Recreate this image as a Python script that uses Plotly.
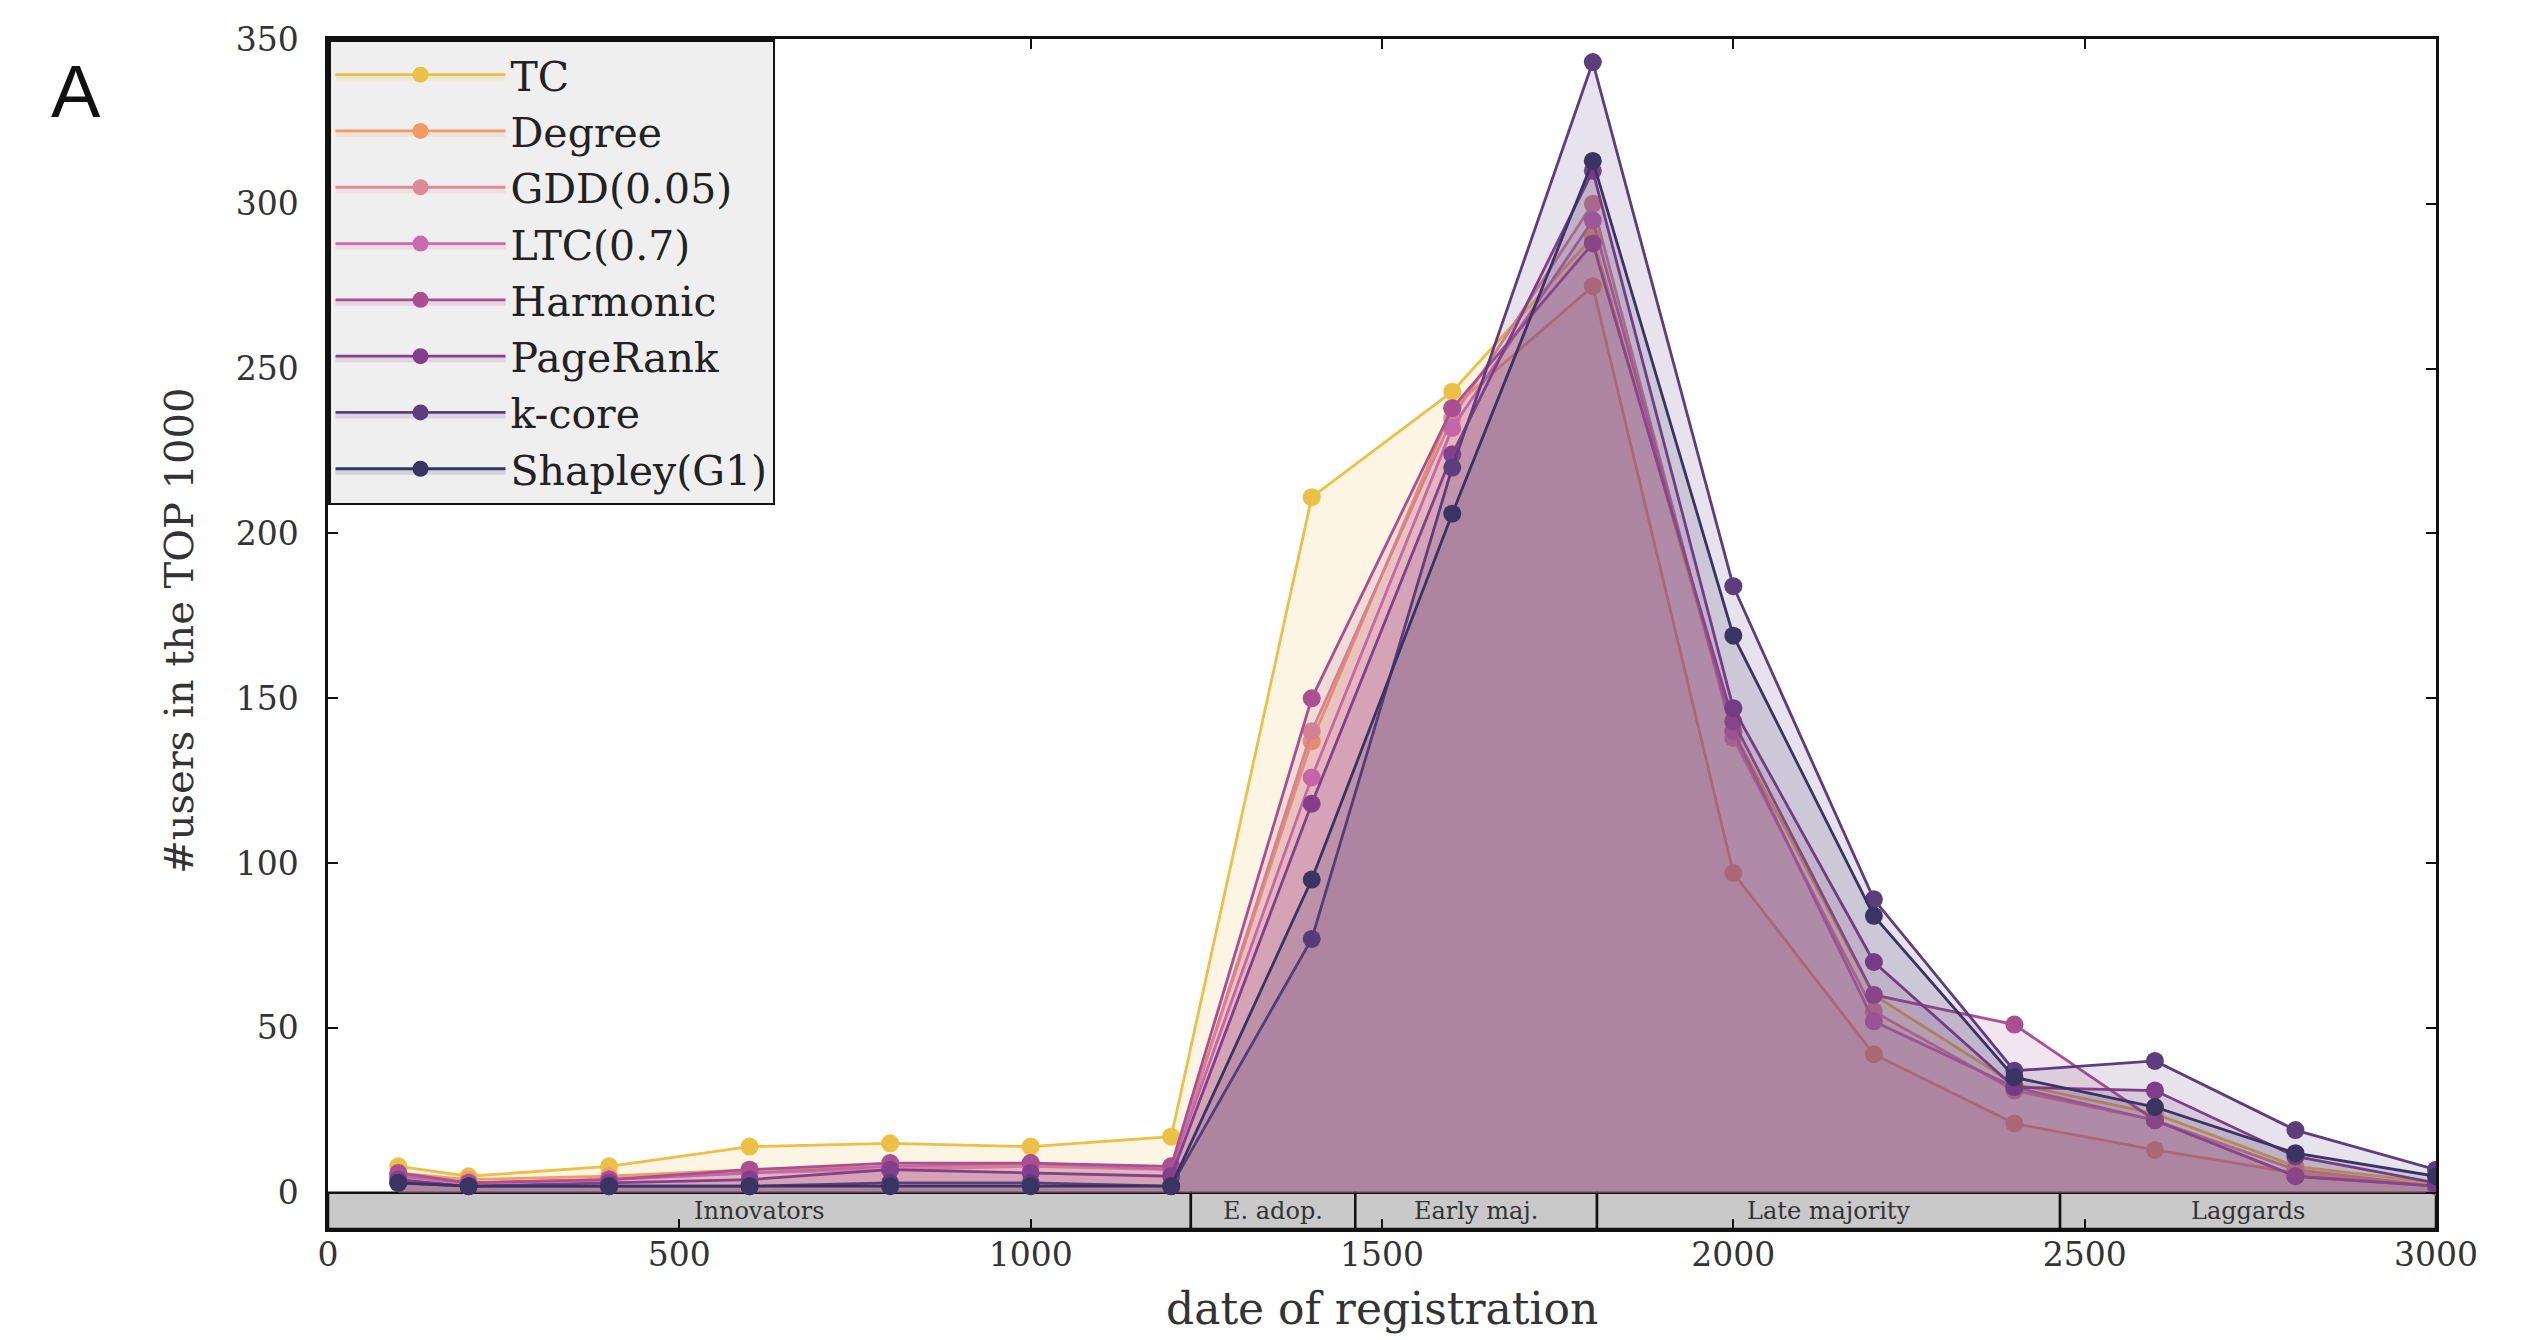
import plotly.graph_objects as go

# ---------------- data ----------------
dates = [100, 200, 400, 600, 800, 1000, 1200, 1400, 1600, 1800, 2000, 2200, 2400, 2600, 2800, 3000]

series_names = ["TC", "Degree", "GDD(0.05)", "LTC(0.7)", "Harmonic", "PageRank", "k-core", "Shapley(G1)"]

tc       = [8, 5, 8, 14, 15, 14, 17, 211, 243, 290, 140, 60, 33, 24, 8, 3]
degree   = [6, 4, 5, 7, 8, 8, 8, 137, 238, 275, 97, 42, 21, 13, 6, 2]
gdd      = [5, 3, 4, 6, 7, 8, 7, 140, 235, 300, 138, 55, 31, 22, 7, 2]
ltc      = [5, 3, 4, 6, 8, 9, 7, 126, 232, 295, 140, 52, 32, 22, 5, 2]
harmonic = [6, 3, 4, 7, 9, 9, 8, 150, 238, 288, 143, 60, 51, 22, 5, 2]
pagerank = [4, 2, 3, 4, 7, 6, 5, 118, 224, 310, 147, 70, 32, 31, 11, 3]
kcore    = [3, 2, 2, 2, 3, 3, 2, 77, 220, 343, 184, 89, 37, 40, 19, 7]
shapley  = [3, 2, 2, 2, 2, 2, 2, 95, 206, 313, 169, 84, 35, 26, 12, 5]

series_values = [tc, degree, gdd, ltc, harmonic, pagerank, kcore, shapley]

colors = ["#ecbf45", "#f29a62", "#dc8a96", "#c86aae", "#a94f92", "#843f8c", "#5c3e7c", "#393462"]

phase_labels = ["Innovators", "E. adop.", "Early maj.", "Late majority", "Laggards"]
phase_bounds = [0, 1228, 1462, 1806, 2465, 3000]

x_ticks = [0, 500, 1000, 1500, 2000, 2500, 3000]
y_ticks = [0, 50, 100, 150, 200, 250, 300, 350]

band_bottom = -11
serif = "DejaVu Serif"


def rgba(hex_color, a):
    h = hex_color.lstrip("#")
    r, g, b = int(h[0:2], 16), int(h[2:4], 16), int(h[4:6], 16)
    return f"rgba({r},{g},{b},{a})"


fig = go.Figure()
for name, ys, col in zip(series_names, series_values, colors):
    fig.add_trace(go.Scatter(
        x=dates, y=ys, name=name, mode="lines+markers",
        line=dict(color=col, width=2.8),
        marker=dict(color=col, size=18),
        fill="tozeroy", fillcolor=rgba(col, 0.15),
    ))

# adoption phase band below zero
for i, lab in enumerate(phase_labels):
    x0, x1 = phase_bounds[i], phase_bounds[i + 1]
    fig.add_shape(type="rect", xref="x", yref="y", x0=x0, x1=x1, y0=band_bottom, y1=0,
                  fillcolor="#c9c9c9", line=dict(color="#111", width=2.5), layer="below")
    fig.add_annotation(x=(x0 + x1) / 2, y=band_bottom / 2, xref="x", yref="y", text=lab,
                       showarrow=False, font=dict(family=serif, size=24, color="#333"))

axis_common = dict(showline=True, linecolor="#111", linewidth=2.5, mirror="ticks",
                   ticks="inside", ticklen=10, tickwidth=2, tickcolor="#111",
                   showgrid=False, zeroline=False,
                   tickfont=dict(family=serif, size=33, color="#333"))

fig.update_xaxes(range=[0, 3000], tickvals=x_ticks, ticklabelstandoff=-5, **axis_common)
fig.update_yaxes(range=[band_bottom, 350], tickvals=y_ticks, ticklabelstandoff=20, **axis_common)

fig.add_annotation(text="date of registration", xref="paper", yref="paper", x=0.5, y=-0.067,
                   showarrow=False, xanchor="center", yanchor="middle",
                   font=dict(family=serif, size=44, color="#333"))
fig.add_annotation(text="#users in the TOP 1000", xref="paper", yref="paper", x=-0.0705, y=0.503,
                   showarrow=False, xanchor="center", yanchor="middle", textangle=-90,
                   font=dict(family=serif, size=40, color="#333"))
fig.add_annotation(text="A", xref="paper", yref="paper", x=-0.1195, y=0.9556,
                   showarrow=False, xanchor="center", yanchor="middle",
                   font=dict(family="Liberation Sans", size=74, color="#111"))

fig.update_layout(
    width=2530, height=1340,
    margin=dict(l=320, r=102, t=26, b=119),
    paper_bgcolor="white", plot_bgcolor="white",
    legend=dict(x=0.0, y=1.0, xanchor="left", yanchor="top",
                bgcolor="#efefef", bordercolor="#111", borderwidth=2.5,
                font=dict(family=serif, size=41, color="#222"),
                itemwidth=170, tracegroupgap=0),
    showlegend=True,
)

fig.write_html("out.html")
